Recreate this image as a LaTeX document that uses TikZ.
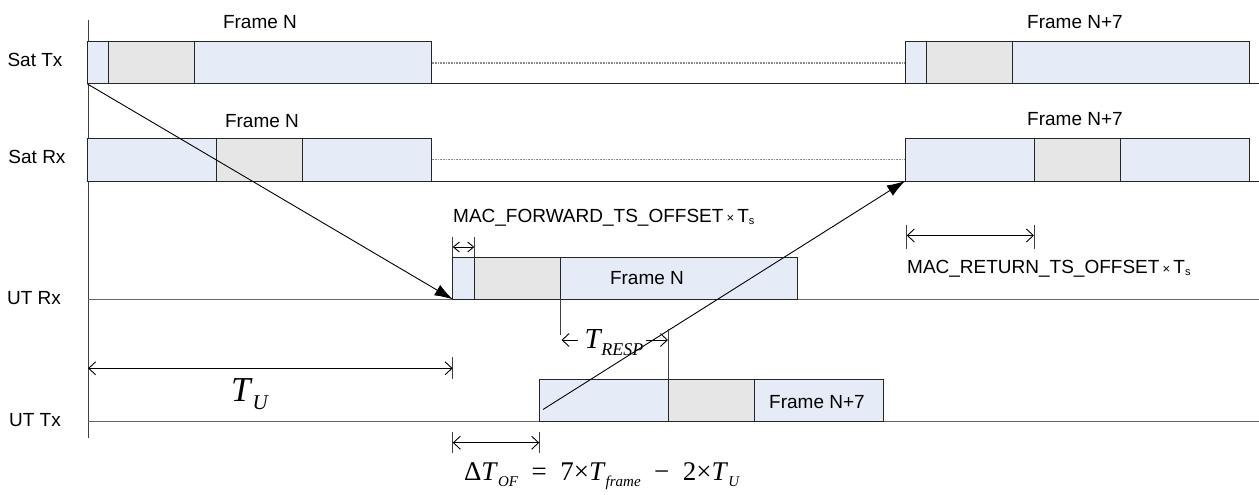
\documentclass[tikz,border=0pt]{standalone}
\usepackage{fontspec}
\setmainfont{Liberation Sans}
\newfontfamily\tms{Liberation Serif}
\usetikzlibrary{arrows.meta,fit}
\definecolor{lb}{HTML}{E6ECF7}
\definecolor{lg}{HTML}{E6E6E6}
\newcommand{\lbl}{\fontsize{19}{20}\selectfont}
\newcommand{\xts}{\,{\fontsize{13}{13}\selectfont ×}\,T{\fontsize{11}{11}\selectfont\raisebox{-2pt}{s}}}
\begin{document}
\begin{tikzpicture}[x=1pt,y=-1pt,
  seg/.style={draw=black!85, line width=1pt, inner sep=0pt, outer sep=0pt},
  blu/.style={seg, fill=lb},
  gry/.style={seg, fill=lg},
  base/.style={line width=1pt, draw=black!85},
  ubase/.style={line width=1pt, draw=black!60},
  dots/.style={draw=black!45, line width=1.3pt, dash pattern=on 1pt off 0.6pt},
  txt/.style={font=\lbl, inner sep=0pt},
  dim/.style={line width=0.9pt, {Straight Barb[length=7pt,width=13pt]}-{Straight Barb[length=7pt,width=13pt]}},
  sdim/.style={line width=0.9pt, {Straight Barb[length=6pt,width=10pt]}-{Straight Barb[length=6pt,width=10pt]}},
  tick/.style={line width=0.9pt, draw=black!75},
  sig/.style={line width=0.9pt, -{Latex[length=18pt,width=12pt]}}
]
\useasboundingbox (0,0) rectangle (1259,495);

% axis
\draw[line width=1pt, draw=black!75] (88,20) coordinate (axtop) -- (88,438) coordinate (axbot);

% baselines
\draw[base] (88,84) -- (1259,84);
\draw[base] (88,181) -- (1259,181);
\draw[ubase] (88,299.3) -- (1259,299.3);
\draw[ubase] (88,421.7) -- (1259,421.7);

% row labels
\node[txt] (lsattx) at (35,60) {Sat Tx};
\node[txt] (lsatrx) at (37,157) {Sat Rx};
\node[txt] (lutrx) at (34,298) {UT Rx};
\node[txt] (lutx) at (35,420) {UT Tx};

% Sat Tx
\node[blu, fit={(87.5,42)(431.5,84)}] (stxA) {};
\node[gry, fit={(108.3,42)(194.3,84)}] (stxAg) {};
\node[blu, fit={(905,42)(1249.3,84)}] (stxB) {};
\node[gry, fit={(926.7,42)(1012.7,84)}] (stxBg) {};
\draw[dots] (stxA.east) -- (stxB.west);
\node[txt] (fN1) at (260,22) {Frame N};
\node[txt] (fN71) at (1075,22) {Frame N+7};

% Sat Rx
\node[blu, fit={(87.5,138.5)(431.5,181)}] (srxA) {};
\node[gry, fit={(216,138.5)(302.3,181)}] (srxAg) {};
\node[blu, fit={(905,138.5)(1249.3,181)}] (srxB) {};
\node[gry, fit={(1034.3,138.5)(1120.3,181)}] (srxBg) {};
\draw[dots] (srxA.east) -- (srxB.west);
\node[txt] (fN2) at (262,121) {Frame N};
\node[txt] (fN72) at (1075,119) {Frame N+7};

% UT Rx
\node[blu, fit={(452.7,257)(797.3,299.3)}] (urx) {};
\node[gry, fit={(474.3,257)(560.7,299.3)}] (urxg) {};
\node[txt] (fN3) at (647,278) {Frame N};

% UT Tx
\node[blu, fit={(539.3,379.3)(883.3,421.7)}] (utx) {};
\node[gry, fit={(668.7,379.3)(754.3,421.7)}] (utxg) {};
\node[txt] (fN73) at (817,402) {Frame N+7};

% signal arrows
\draw[sig] (stxA.south west) -- (urx.south west);
\coordinate (txstart) at (543,409.5);
\draw[sig] (txstart) -- (srxB.south west);

% MAC_FORWARD offset
\draw[tick] (452.7,236.5) coordinate (mf1) -- (452.7,257);
\draw[tick] (474.3,236.5) coordinate (mf2) -- (474.3,257);
\draw[sdim] (452.7,247) -- (474.3,247);
\node[txt, anchor=west] (macf) at (453,218) {MAC\_FORWARD\_TS\_OFFSET\xts};

% MAC_RETURN offset
\draw[tick] (906.7,225) coordinate (mr1) -- (906.7,249);
\draw[tick] (1034,225) coordinate (mr2) -- (1034,249);
\draw[dim] (906.7,235.5) -- (1034,235.5);
\node[txt, anchor=west] (macr) at (907,269) {MAC\_RETURN\_TS\_OFFSET\xts};

% T_RESP
\draw[tick] (urxg.south east) -- (560.7,335) coordinate (tr1);
\draw[tick] (668.7,329) coordinate (tr2) -- (utxg.north west);
\draw[line width=0.9pt, -{Straight Barb[length=7pt,width=13pt]}] (578,340) -- (561.5,340);
\draw[line width=0.9pt, -{Straight Barb[length=7pt,width=13pt]}] (646,340) -- (668,340);
\node[inner sep=0pt] (tresp) at (614,343) {\tms\fontsize{29}{29}\selectfont\textit{T}\kern-1pt\raisebox{-7pt}{\fontsize{18}{18}\selectfont\textit{RESP}}};

% T_U
\draw[tick] (452.7,357) coordinate (tu1) -- (452.7,379);
\draw[dim] (88,368.3) -- (452.7,368.3);
\node[inner sep=0pt] (tu) at (250,394) {\tms\fontsize{35}{35}\selectfont\textit{T}\raisebox{-8pt}{\fontsize{21}{21}\selectfont\textit{U}}};

% Delta T_OF
\draw[tick] (452.7,431.7) coordinate (d1) -- (452.7,453);
\draw[tick] (539.3,431.7) coordinate (d2) -- (539.3,453);
\draw[dim] (452.7,442.7) -- (539.3,442.7);
\node[inner sep=0pt] (dof) at (602,476) {\tms\fontsize{27}{27}\selectfont Δ\textit{T}\raisebox{-6pt}{\fontsize{15}{15}\selectfont\textit{OF}}\enspace=\enspace7×\textit{T}\raisebox{-6pt}{\fontsize{15}{15}\selectfont\textit{frame}}\enspace−\enspace2×\textit{T}\raisebox{-6pt}{\fontsize{15}{15}\selectfont\textit{U}}};
\end{tikzpicture}
\end{document}
